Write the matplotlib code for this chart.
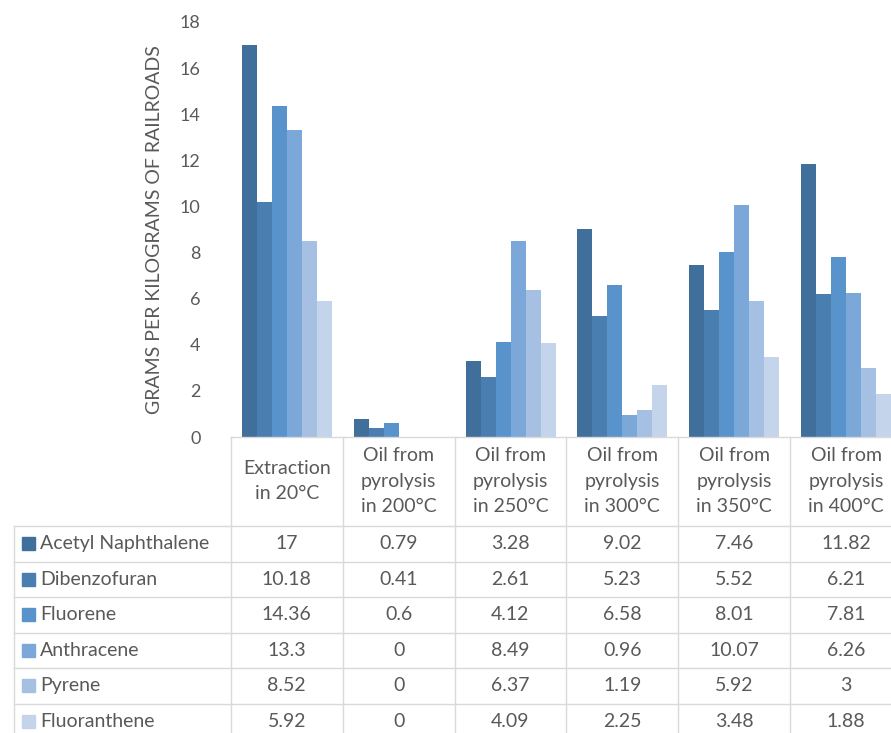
import matplotlib.pyplot as plt
from matplotlib.patches import Rectangle
import numpy as np

plt.rcParams['font.family'] = ['Lato', 'DejaVu Sans']

categories = ['Extraction\nin 20°C', 'Oil from\npyrolysis\nin 200°C', 'Oil from\npyrolysis\nin 250°C',
              'Oil from\npyrolysis\nin 300°C', 'Oil from\npyrolysis\nin 350°C', 'Oil from\npyrolysis\nin 400°C']
compounds = ['Acetyl Naphthalene', 'Dibenzofuran', 'Fluorene', 'Anthracene', 'Pyrene', 'Fluoranthene']
acetyl_naphthalene = [17, 0.79, 3.28, 9.02, 7.46, 11.82]
dibenzofuran = [10.18, 0.41, 2.61, 5.23, 5.52, 6.21]
fluorene = [14.36, 0.6, 4.12, 6.58, 8.01, 7.81]
anthracene = [13.3, 0, 8.49, 0.96, 10.07, 6.26]
pyrene = [8.52, 0, 6.37, 1.19, 5.92, 3]
fluoranthene = [5.92, 0, 4.09, 2.25, 3.48, 1.88]
series = [acetyl_naphthalene, dibenzofuran, fluorene, anthracene, pyrene, fluoranthene]
colors = ['#416F9C', '#4A7EB1', '#5893CB', '#7CA8D9', '#A6C0E3', '#C4D4EB']

txt = '#595959'
grid = '#D9D9D9'
W, H = 891, 733


def box(x0, y0, x1, y1):
    return [x0 / W, 1 - y1 / H, (x1 - x0) / W, (y1 - y0) / H]


fig = plt.figure(figsize=(8.91, 7.33), dpi=100)
ax = fig.add_axes(box(231, 22, 902, 437))
x = np.arange(len(categories))
w = 15 / 112
for j, (vals, c) in enumerate(zip(series, colors)):
    ax.bar(x + (j - 2.5) * w, vals, w, color=c, linewidth=0)
ax.set_xlim(-0.5, 5.5)
ax.set_ylim(0, 18)
ax.set_yticks(range(0, 19, 2))
ax.set_xticks([])
ax.tick_params(axis='y', length=0, pad=22, labelsize=13, labelcolor=txt)
for s in ax.spines.values():
    s.set_visible(False)
fig.text(155 / W, 1 - 230 / H, 'GRAMS PER KILOGRAMS OF RAILROADS', rotation=90,
         ha='center', va='center', fontsize=14, color=txt)

# data table under the chart
tax = fig.add_axes(box(14, 437, 902, 733))
xl = -0.5 - 217 / 112
tax.set_xlim(xl, 5.5)
tax.set_ylim(296, 0)
tax.axis('off')
hdr = 89
rh = 35.5
tax.plot([-0.5, 5.5], [0, 0], color=grid, lw=1, clip_on=False)
for k in range(7):
    yy = hdr + rh * k
    tax.plot([xl, 5.5], [yy, yy], color=grid, lw=1, clip_on=False)
for i in range(7):
    tax.plot([i - 0.5, i - 0.5], [0, 300], color=grid, lw=1, clip_on=False)
tax.plot([xl, xl], [hdr, 300], color=grid, lw=1, clip_on=False)

for i, cat in enumerate(categories):
    tax.text(i, 44, cat, ha='center', va='center', fontsize=14, color=txt, linespacing=1.6)

for k, (name, vals, c) in enumerate(zip(compounds, series, colors)):
    yc = hdr + rh * (k + 0.5)
    tax.add_patch(Rectangle((xl + 8 / 112, yc - 6.5), 13 / 112, 13, color=c, clip_on=False))
    tax.text(xl + 26 / 112, yc, name, ha='left', va='center', fontsize=14, color=txt, clip_on=False)
    for i, v in enumerate(vals):
        tax.text(i, yc, f'{v:g}', ha='center', va='center', fontsize=14, color=txt, clip_on=False)

fig.savefig('out.png', dpi=100)
